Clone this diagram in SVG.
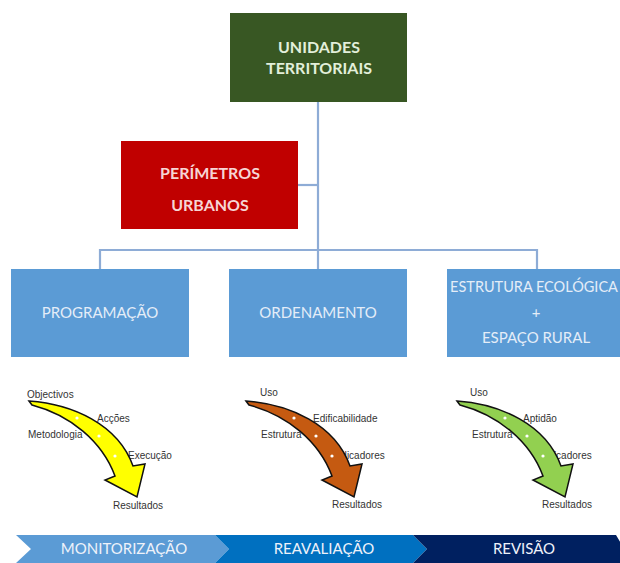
<svg xmlns="http://www.w3.org/2000/svg" xmlns:xlink="http://www.w3.org/1999/xlink" width="620" height="563" viewBox="0 0 620 563">
<style>
.box-t{font-family:Lato,"Liberation Sans",sans-serif;text-anchor:middle;}
.bold{font-weight:bold;font-size:16px;}
.reg{font-size:15px;fill:#e4edf8;}
.lbl{font-family:"Liberation Sans",Arial,sans-serif;font-size:10px;fill:#333;}
.band-t{font-family:Lato,"Liberation Sans",sans-serif;font-size:15px;fill:#eef2fa;text-anchor:middle;}
.conn{stroke:#8eacd6;stroke-width:2.2;fill:none;}
.arrow{stroke:#111;stroke-width:1.5;stroke-linejoin:miter;}
.dot{fill:#fff;}
</style>
<defs>
<path id="arr" d="M29,401 C72,404 118,424 133,466 L145,464 L137,497 L105,480 L115,476 C102,441 70,415 32,405 Z"/>
</defs>
<rect width="620" height="563" fill="#fff"/>

<g id="connectors">
<line class="conn" x1="318" y1="102" x2="318" y2="269" stroke="#9dc3e6"/>
<line class="conn" x1="298" y1="185" x2="318" y2="185"/>
<polyline class="conn" points="100,269 100,250 537,250 537,269"/>
</g>

<g id="unidades">
<rect x="230" y="13" width="177" height="89" fill="#385723"/>
<text class="box-t bold" x="319" y="53" fill="#e2efda">UNIDADES</text>
<text class="box-t bold" x="319" y="74" fill="#e2efda">TERRITORIAIS</text>
</g>

<g id="perimetros">
<rect x="121" y="141" width="177" height="88" fill="#c00000"/>
<text class="box-t bold" x="210" y="179" fill="#f6d5d5">PERÍMETROS</text>
<text class="box-t bold" x="210" y="211" fill="#f6d5d5">URBANOS</text>
</g>

<g id="programacao">
<rect x="11" y="269" width="178" height="88" fill="#5b9bd5"/>
<text class="box-t reg" x="100" y="318">PROGRAMAÇÃO</text>
</g>

<g id="ordenamento">
<rect x="229" y="269" width="178" height="88" fill="#5b9bd5"/>
<text class="box-t reg" x="318" y="318">ORDENAMENTO</text>
</g>

<g id="estrutura">
<rect x="447" y="269" width="180" height="88" fill="#5b9bd5"/>
<text class="box-t reg" x="534" y="292" style="font-size:14.5px">ESTRUTURA ECOLÓGICA</text>
<text class="box-t reg" x="536" y="318">+</text>
<text class="box-t reg" x="536" y="343">ESPAÇO RURAL</text>
</g>

<g id="labels-programacao">
<text class="lbl" x="27" y="397.5">Objectivos</text>
<text class="lbl" x="97" y="422">Acções</text>
<text class="lbl" x="28" y="438">Metodologia</text>
<text class="lbl" x="128" y="459">Execução</text>
<text class="lbl" x="113" y="509">Resultados</text>
</g>
<g id="labels-ordenamento">
<text class="lbl" x="260" y="396">Uso</text>
<text class="lbl" x="313" y="422">Edificabilidade</text>
<text class="lbl" x="261" y="438">Estrutura</text>
<text class="lbl" x="333" y="459">Indicadores</text>
<text class="lbl" x="332" y="508">Resultados</text>
</g>
<g id="labels-estrutura">
<text class="lbl" x="470" y="396">Uso</text>
<text class="lbl" x="523" y="422">Aptidão</text>
<text class="lbl" x="472" y="438">Estrutura</text>
<text class="lbl" x="540" y="459">Indicadores</text>
<text class="lbl" x="542" y="508">Resultados</text>
</g>

<g id="arrow-yellow">
<use xlink:href="#arr" href="#arr" class="arrow" fill="#ffff00"/>
<circle class="dot" cx="77" cy="418" r="1.6"/>
<circle class="dot" cx="99" cy="436" r="1.6"/>
<circle class="dot" cx="115" cy="456" r="1.6"/>
</g>
<g id="arrow-orange" transform="translate(217,0)">
<use xlink:href="#arr" href="#arr" class="arrow" fill="#c55a11"/>
<circle class="dot" cx="77" cy="418" r="1.6"/>
<circle class="dot" cx="99" cy="436" r="1.6"/>
<circle class="dot" cx="115" cy="456" r="1.6"/>
</g>
<g id="arrow-green" transform="translate(428,0)">
<use xlink:href="#arr" href="#arr" class="arrow" fill="#92d050"/>
<circle class="dot" cx="77" cy="418" r="1.6"/>
<circle class="dot" cx="99" cy="436" r="1.6"/>
<circle class="dot" cx="115" cy="456" r="1.6"/>
</g>

<g id="monitorizacao">
<path d="M16,535 L215,535 L229,549 L215,563 L16,563 L31,549 Z" fill="#5b9bd5"/>
<text class="band-t" x="124" y="554">MONITORIZAÇÃO</text>
</g>
<g id="reavaliacao">
<path d="M215,535 L413,535 L427,549 L413,563 L215,563 L229,549 Z" fill="#0070c0"/>
<text class="band-t" x="324" y="554">REAVALIAÇÃO</text>
</g>
<g id="revisao">
<path d="M413,535 L616,535 L622,545 L622,563 L413,563 L427,549 Z" fill="#002060"/>
<text class="band-t" x="524" y="554">REVISÃO</text>
</g>
</svg>
